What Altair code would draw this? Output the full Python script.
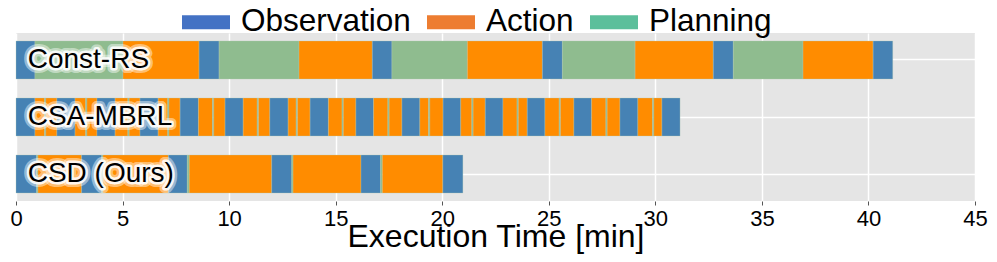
import altair as alt
import pandas as pd
import numpy as np

methods = ["Const-RS", "CSA-MBRL", "CSD (Ours)"]
phase_names = ["Observation", "Action", "Planning"]
bar_colors = ["#4682b4", "#ff8c00", "#8fbc8f"]
legend_colors = ["#4472c4", "#ed7d31", "#5cbf9b"]
x_ticks = [0, 5, 10, 15, 20, 25, 30, 35, 40, 45]
label_x = 0.55

const_rs_phases = ["Observation", "Planning", "Action"] * 5 + ["Observation"]
const_rs_durations = [0.89, 4.13, 3.57, 0.94, 3.75, 3.44, 0.92, 3.54, 3.52,
                      0.94, 3.41, 3.67, 0.94, 3.27, 3.29, 0.92]

csa_mbrl_phases = ["Observation", "Action", "Planning", "Action"] * 15 + ["Observation"]
csa_mbrl_durations = [0.89, 0.45, 0.06, 0.52,
                      0.85, 0.50, 0.06, 0.47,
                      0.85, 0.60, 0.06, 0.51,
                      0.85, 0.45, 0.06, 0.52,
                      0.86, 0.66, 0.06, 0.53,
                      0.85, 0.66, 0.06, 0.53,
                      0.86, 0.38, 0.06, 0.59,
                      0.86, 0.64, 0.06, 0.59,
                      0.83, 0.67, 0.06, 0.60,
                      0.84, 0.41, 0.06, 0.62,
                      0.83, 0.52, 0.06, 0.57,
                      0.83, 0.66, 0.06, 0.42,
                      0.83, 0.67, 0.06, 0.63,
                      0.83, 0.67, 0.06, 0.60,
                      0.84, 0.69, 0.06, 0.38,
                      0.85]

csd_phases = ["Observation", "Planning", "Action"] * 5 + ["Observation"]
csd_durations = [0.97, 0.06, 2.05, 0.94, 0.06, 3.07, 0.89, 0.09, 3.87,
                 0.94, 0.06, 3.19, 0.92, 0.08, 2.84, 0.94]

rows = []
for m, phases, durs in [(methods[0], const_rs_phases, const_rs_durations),
                        (methods[1], csa_mbrl_phases, csa_mbrl_durations),
                        (methods[2], csd_phases, csd_durations)]:
    ends = np.cumsum(durs)
    starts = ends - np.array(durs)
    for p, s, e in zip(phases, starts, ends):
        rows.append({"method": m, "phase": p, "start": float(s), "end": float(e)})
df = pd.DataFrame(rows)

df_labels = pd.DataFrame({"method": methods, "start": [label_x] * 3})
df_legend = pd.DataFrame({"method": [methods[0]] * 3, "legend_phase": phase_names,
                          "start": [0.0] * 3, "end": [0.0] * 3})

FONT = "Liberation Sans"

x_axis = alt.Axis(values=x_ticks, title="Execution Time [min]", grid=True,
                  gridColor="#ffffff", gridWidth=1.5, domain=False,
                  tickColor="#555555", tickSize=4, tickWidth=1,
                  labelFontSize=22, labelFont=FONT, labelColor="#000000",
                  labelFlush=False, labelOverlap=False,
                  labelPadding=3, titleFontSize=32, titleFont=FONT,
                  titleFontWeight="normal", titleColor="#000000", titlePadding=-8)
x_scale = alt.Scale(domain=[0, 45], nice=False, zero=False)
y_enc = alt.Y("method:N", sort=methods,
              scale=alt.Scale(paddingInner=0.333, paddingOuter=0.14),
              axis=alt.Axis(labels=False, ticks=False, domain=False, title=None,
                            grid=True, gridColor="#ffffff", gridWidth=1.5))

bars = alt.Chart(df).mark_bar(stroke="#b5c9b5", strokeWidth=0.4, strokeOpacity=0.8).encode(
    x=alt.X("start:Q", scale=x_scale, axis=x_axis),
    x2="end:Q",
    y=y_enc,
    color=alt.Color("phase:N", scale=alt.Scale(domain=phase_names, range=bar_colors), legend=None),
)

legend_layer = alt.Chart(df_legend).mark_bar().encode(
    x=alt.X("start:Q", scale=x_scale, axis=x_axis),
    x2="end:Q",
    y=y_enc,
    color=alt.Color("legend_phase:N", sort=phase_names,
                    scale=alt.Scale(domain=phase_names, range=legend_colors),
                    legend=alt.Legend(orient="none", legendX=166, legendY=-35,
                                      direction="horizontal", title=None,
                                      symbolType="M-1,-0.29L1,-0.29L1,0.29L-1,0.29Z",
                                      symbolSize=2304, symbolStrokeWidth=0,
                                      symbolOpacity=1,
                                      labelFontSize=31.5, labelFont=FONT,
                                      labelColor="#000000", labelOffset=11,
                                      columnPadding=16, padding=0,
                                      labelLimit=400)),
)

halo1 = alt.Chart(df_labels).mark_text(
    align="left", baseline="middle", fontSize=28, font=FONT,
    fill="white", stroke="white", strokeWidth=10, strokeOpacity=0.45,
    strokeJoin="round", fillOpacity=0.5).encode(
    x=alt.X("start:Q", scale=x_scale, axis=x_axis), y=y_enc, text="method:N")
halo2 = alt.Chart(df_labels).mark_text(
    align="left", baseline="middle", fontSize=28, font=FONT,
    fill="white", stroke="white", strokeWidth=5, strokeOpacity=0.9,
    strokeJoin="round").encode(
    x=alt.X("start:Q", scale=x_scale, axis=x_axis), y=y_enc, text="method:N")
labels = alt.Chart(df_labels).mark_text(
    align="left", baseline="middle", fontSize=28, font=FONT, fill="black").encode(
    x=alt.X("start:Q", scale=x_scale, axis=x_axis), y=y_enc, text="method:N")

chart = alt.layer(bars, legend_layer, halo1, halo2, labels).resolve_scale(
    color="independent"
).properties(
    width=959, height=168,
    padding={"left": 8, "top": 25, "right": 14, "bottom": 53},
    autosize=alt.AutoSizeParams(type="none"),
).configure_view(fill="#e5e5e5", stroke=None)

chart.save("out.html", embed_options={"renderer": "svg", "actions": False})
